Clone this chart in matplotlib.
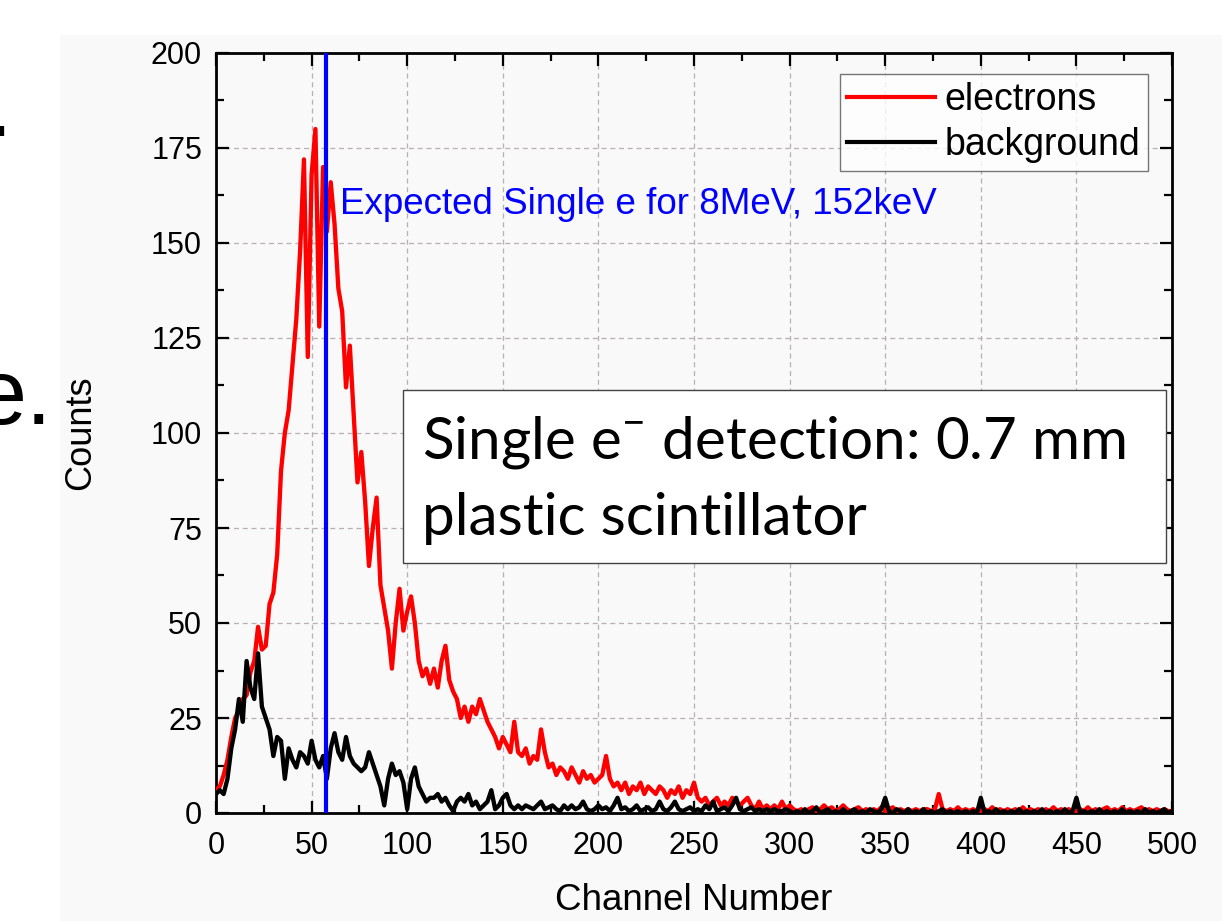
import numpy as np
import matplotlib
matplotlib.use("Agg")
import matplotlib.pyplot as plt
from matplotlib.patches import Rectangle

plt.rcParams['font.family'] = ['Liberation Sans', 'DejaVu Sans']
plt.rcParams['mathtext.fontset'] = 'custom'
plt.rcParams['mathtext.rm'] = 'Lato'

# channel axis, sampled every 2 channels
channels = np.arange(0, 501, 2)

electrons = [
    6, 7, 10, 14, 20, 25, 27, 30, 31, 37,
    40, 49, 43, 44, 55, 58, 68, 90, 100, 106,
    118, 130, 148, 172, 120, 168, 180, 128, 170, 153,
    166, 155, 138, 132, 112, 123, 105, 87, 95, 82,
    65, 75, 83, 60, 54, 48, 38, 50, 59, 48,
    53, 57, 50, 40, 36, 38, 34, 38, 33, 40,
    44, 35, 32, 30, 25, 28, 24, 28, 26, 30,
    27, 24, 22, 20, 17, 20, 18, 16, 24, 16,
    15, 17, 13, 15, 14, 22, 16, 12, 13, 10,
    12, 11, 9, 12, 10, 8, 11, 9, 10, 8,
    9, 10, 15, 9, 7, 8, 6, 8, 5, 7,
    6, 8, 5, 7, 6, 5, 7, 6, 4, 6,
    5, 7, 4, 6, 5, 8, 4, 3, 4, 2,
    3, 4, 2, 3, 2, 4, 3, 2, 3, 4,
    2, 1, 3, 1, 2, 1, 2, 1, 3, 1,
    2, 1, 0.5, 1, 0.5, 1, 1.5, 0.5, 1, 2,
    1, 1.5, 0.5, 1, 2, 1, 0.5, 1, 1.5, 0.5,
    1, 0.5, 1, 0.5, 1.5, 0.5, 1, 1.5, 0.5, 1,
    0.5, 1, 0.5, 1, 0.5, 1, 1, 0.5, 1, 5,
    1, 0.5, 1, 0.5, 1.5, 0.5, 1, 0.5, 1, 0.5,
    0.5, 1, 0.5, 1.5, 0.5, 1, 0.5, 1, 0.5, 1,
    0.5, 1.5, 0.5, 1, 0.5, 1, 0.5, 1, 0.5, 1.5,
    0.5, 1, 0.5, 1, 0.5, 0.5, 1, 0.5, 1.5, 0.5,
    1, 0.5, 1, 1.5, 0.5, 1, 0.5, 1.5, 0.5, 1,
    0.5, 1, 1.5, 0.5, 1, 0.5, 1, 0.5, 1, 0.5,
    0.5,
]

background = [
    5, 6, 5, 9, 17, 22, 30, 24, 40, 33,
    30, 42, 28, 25, 22, 15, 20, 19, 9, 17,
    14, 12, 16, 15, 13, 19, 14, 12, 15, 9,
    17, 21, 16, 14, 20, 15, 13, 12, 11, 12,
    16, 13, 10, 7, 2, 9, 13, 10, 11, 8,
    1, 9, 12, 7, 5, 3, 4, 4, 5, 3,
    4, 2, 0.5, 3, 4, 3, 5, 2, 3, 1,
    2, 3, 6, 1, 2, 4, 5, 2, 1, 2,
    1, 2, 1.5, 1, 2, 3, 1, 1.5, 2, 1,
    0.5, 2, 1, 2, 1, 1.5, 3, 1, 0.5, 1,
    2, 1, 1.5, 0.5, 2, 4, 1, 1.5, 0.5, 1,
    2, 0.5, 1, 1.5, 0.5, 1, 3, 1, 0.5, 1.5,
    3, 1, 0.5, 1, 1.5, 0.5, 1, 0.5, 2, 1,
    3, 0.5, 1, 1.5, 0.5, 2, 4, 1, 0.5, 1,
    1.5, 0.5, 1, 0.5, 1, 0.5, 1, 0.5, 0.5, 1,
    0.5, 0, 0.5, 0, 1, 0, 0.5, 1.5, 0, 0.5,
    1, 0, 0.5, 0, 1, 0, 0.5, 1, 0, 0.5,
    0, 1, 0.5, 0, 1, 4, 0.5, 0, 1, 0.5,
    0, 1, 0, 0.5, 0, 1, 0, 0.5, 0, 0.5,
    1, 0, 0.5, 0, 0.5, 0, 0.5, 0, 0.5, 0,
    4, 0, 0.5, 0, 1, 0, 0.5, 0, 0.5, 0,
    1, 0, 0.5, 0, 0.5, 0, 1, 0, 0.5, 0,
    0.5, 0, 1, 0, 0.5, 4, 0, 0.5, 0, 0.5,
    0, 1, 0, 0.5, 0, 0.5, 0, 1, 0, 0.5,
    0, 0.5, 0, 1, 0, 0.5, 0, 0.5, 1, 0,
    0.5,
]

expected_channel = 57.5
x_ticks = [0, 50, 100, 150, 200, 250, 300, 350, 400, 450, 500]
y_ticks = [0, 25, 50, 75, 100, 125, 150, 175, 200]

fig = plt.figure(figsize=(12.22, 9.21), dpi=100)
W, H = 1222, 921

# faint grey backdrop of the pasted graph
fig.patches.append(Rectangle((60 / W, 0), 1 - 60 / W, 1 - 35 / H,
                             transform=fig.transFigure, facecolor='#f9f9f9',
                             edgecolor='none', zorder=-5))

ax = fig.add_axes([216 / W, 1 - 813 / H, (1172 - 216) / W, (813 - 53) / H])
ax.set_facecolor('none')

ax.plot(channels, electrons, color='#ff0000', lw=3.1, label='electrons', zorder=3)
ax.plot(channels, background, color='black', lw=3.1, label='background', zorder=4)
ax.axvline(expected_channel, color='#0000ff', lw=3, zorder=5)

ax.text(65, 160, 'Expected Single e for 8MeV, 152keV', color='#0000ff',
        fontsize=26.5, va='center', ha='left')

ax.set_xlim(0, 500)
ax.set_ylim(0, 200)
ax.set_xticks(x_ticks)
ax.set_yticks(y_ticks)
ax.set_xticks(np.arange(25, 500, 50), minor=True)
ax.set_yticks(np.arange(12.5, 200, 25), minor=True)
ax.tick_params(which='both', direction='in', top=True, right=True, width=1.6)
ax.tick_params(which='major', length=9, labelsize=22)
ax.tick_params(axis='x', which='major', pad=13)
ax.tick_params(axis='y', which='major', pad=10)
ax.tick_params(which='minor', length=5.5)
for s in ax.spines.values():
    s.set_linewidth(2)

ax.grid(True, which='major', ls=(0, (4, 3)), color='#b8b0b4', lw=0.9, zorder=1)

ax.set_xlabel('Channel Number', fontsize=26.5, labelpad=16)
ax.set_ylabel('Counts', fontsize=26, labelpad=38)

leg = ax.legend(loc='upper right', fontsize=27, frameon=True, fancybox=False,
                edgecolor='#555555', handlelength=2.35, handletextpad=0.25,
                borderpad=0.2, labelspacing=0.25, borderaxespad=0.0,
                bbox_to_anchor=(0.9748, 0.972))
leg.get_frame().set_linewidth(1.0)
for line in leg.get_lines():
    line.set_linewidth(3)

# annotation box (drawn separately so it can be wider than the text)
ax.add_patch(Rectangle((97.8, 65.8), 399.1, 45.5, facecolor='white',
                       edgecolor='#444444', lw=1.0, zorder=6))
ax.text(107.7, 93.4, 'Single e$^{-}$ detection: 0.7 mm', fontsize=42,
        family='Lato', va='baseline', ha='left', zorder=7)
ax.text(107.7, 73.2, 'plastic scintillator', fontsize=42,
        family='Lato', va='baseline', ha='left', zorder=7)

# leftover slide text at left edge
fig.text(12 / W, 1 - 136 / H, '.', fontsize=66, ha='right', va='baseline')
fig.text(52 / W, 1 - 424 / H, 'e.', fontsize=66, ha='right', va='baseline')

fig.savefig('out.png', dpi=100)
